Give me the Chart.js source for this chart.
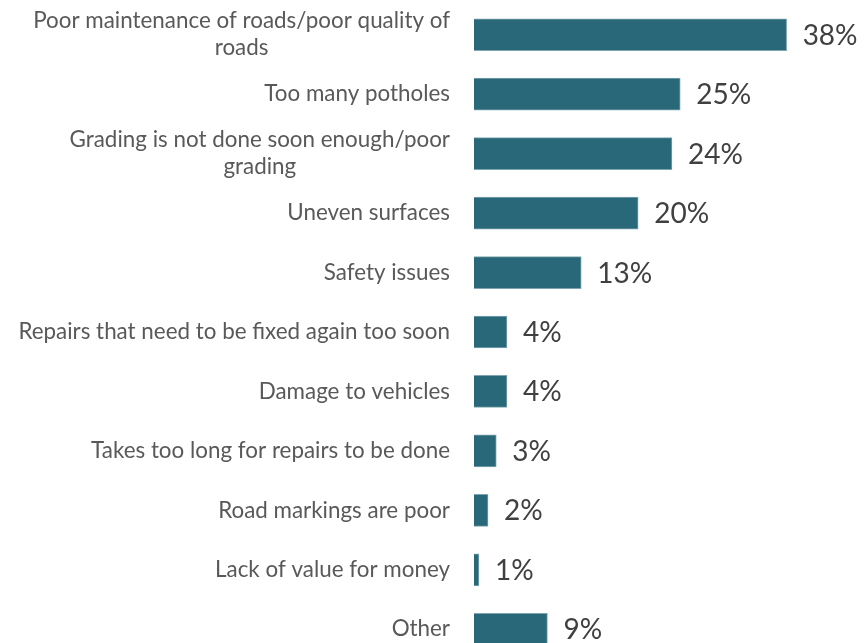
<!DOCTYPE html>
<html>
<head>
<meta charset="utf-8">
<script src="https://cdn.jsdelivr.net/npm/chart.js@4/dist/chart.umd.min.js"></script>
<style>
  html, body { margin: 0; padding: 0; background: #fff; overflow: hidden; }
  #wrap { width: 865px; height: 643px; overflow: hidden; }
</style>
</head>
<body>
<div id="wrap">
  <canvas id="issues" width="865" height="659"></canvas>
</div>
<script>
// categories (wrapped ones are arrays of lines)
var categories = [
  ["Poor maintenance of roads/poor quality of", "roads"],
  "Too many potholes",
  ["Grading is not done soon enough/poor", "grading"],
  "Uneven surfaces",
  "Safety issues",
  "Repairs that need to be fixed again too soon",
  "Damage to vehicles",
  "Takes too long for repairs to be done",
  "Road markings are poor",
  "Lack of value for money",
  "Other"
];
// bar lengths as drawn (labels are rounded)
var shares = [37.9, 25, 24, 19.9, 13, 4, 4, 2.7, 1.7, 0.6, 8.9];
var valueLabels = ["38%", "25%", "24%", "20%", "13%", "4%", "4%", "3%", "2%", "1%", "9%"];

var labelFont = "22.4px Lato";
var valueFont = "28px Lato";

// draws category names (right aligned, wrapped lines centred) and values
var textPlugin = {
  id: "texts",
  afterDatasetsDraw: function (chart) {
    var c = chart.ctx;
    var yScale = chart.scales.y;
    var meta = chart.getDatasetMeta(0);
    var rightEdge = yScale.right - 24;
    c.save();
    c.textBaseline = "middle";
    c.font = labelFont;
    c.fillStyle = "#595959";
    categories.forEach(function (cat, i) {
      var y = yScale.getPixelForValue(i);
      if (Array.isArray(cat)) {
        var widest = 0;
        cat.forEach(function (line) {
          widest = Math.max(widest, c.measureText(line).width);
        });
        var lh = 27;
        var top = y - (lh * (cat.length - 1)) / 2;
        c.textAlign = "center";
        cat.forEach(function (line, j) {
          c.fillText(line, rightEdge - widest / 2, top + j * lh);
        });
      } else {
        c.textAlign = "right";
        c.fillText(cat, rightEdge, y);
      }
    });
    c.font = valueFont;
    c.fillStyle = "#404040";
    c.textAlign = "left";
    meta.data.forEach(function (bar, i) {
      c.fillText(valueLabels[i], bar.x + 16, bar.y + 1);
    });
    c.restore();
  }
};

var ctx = document.getElementById("issues").getContext("2d");
var myChart = new Chart(ctx, {
  type: "bar",
  data: {
    labels: categories,
    datasets: [
      {
        data: shares,
        backgroundColor: "#286878",
        borderColor: "#7fa6b0",
        borderWidth: 1,
        barThickness: 32
      }
    ]
  },
  options: {
    indexAxis: "y",
    responsive: false,
    animation: false,
    layout: { padding: { top: 5, right: 0, bottom: 0, left: 0 } },
    plugins: {
      legend: { display: false },
      tooltip: { enabled: false }
    },
    scales: {
      x: {
        display: false,
        min: 0,
        max: 47.4
      },
      y: {
        grid: { display: false },
        border: { display: false },
        ticks: { display: false },
        afterFit: function (scale) {
          scale.width = 474;
        }
      }
    }
  },
  plugins: [textPlugin]
});
</script>
</body>
</html>
